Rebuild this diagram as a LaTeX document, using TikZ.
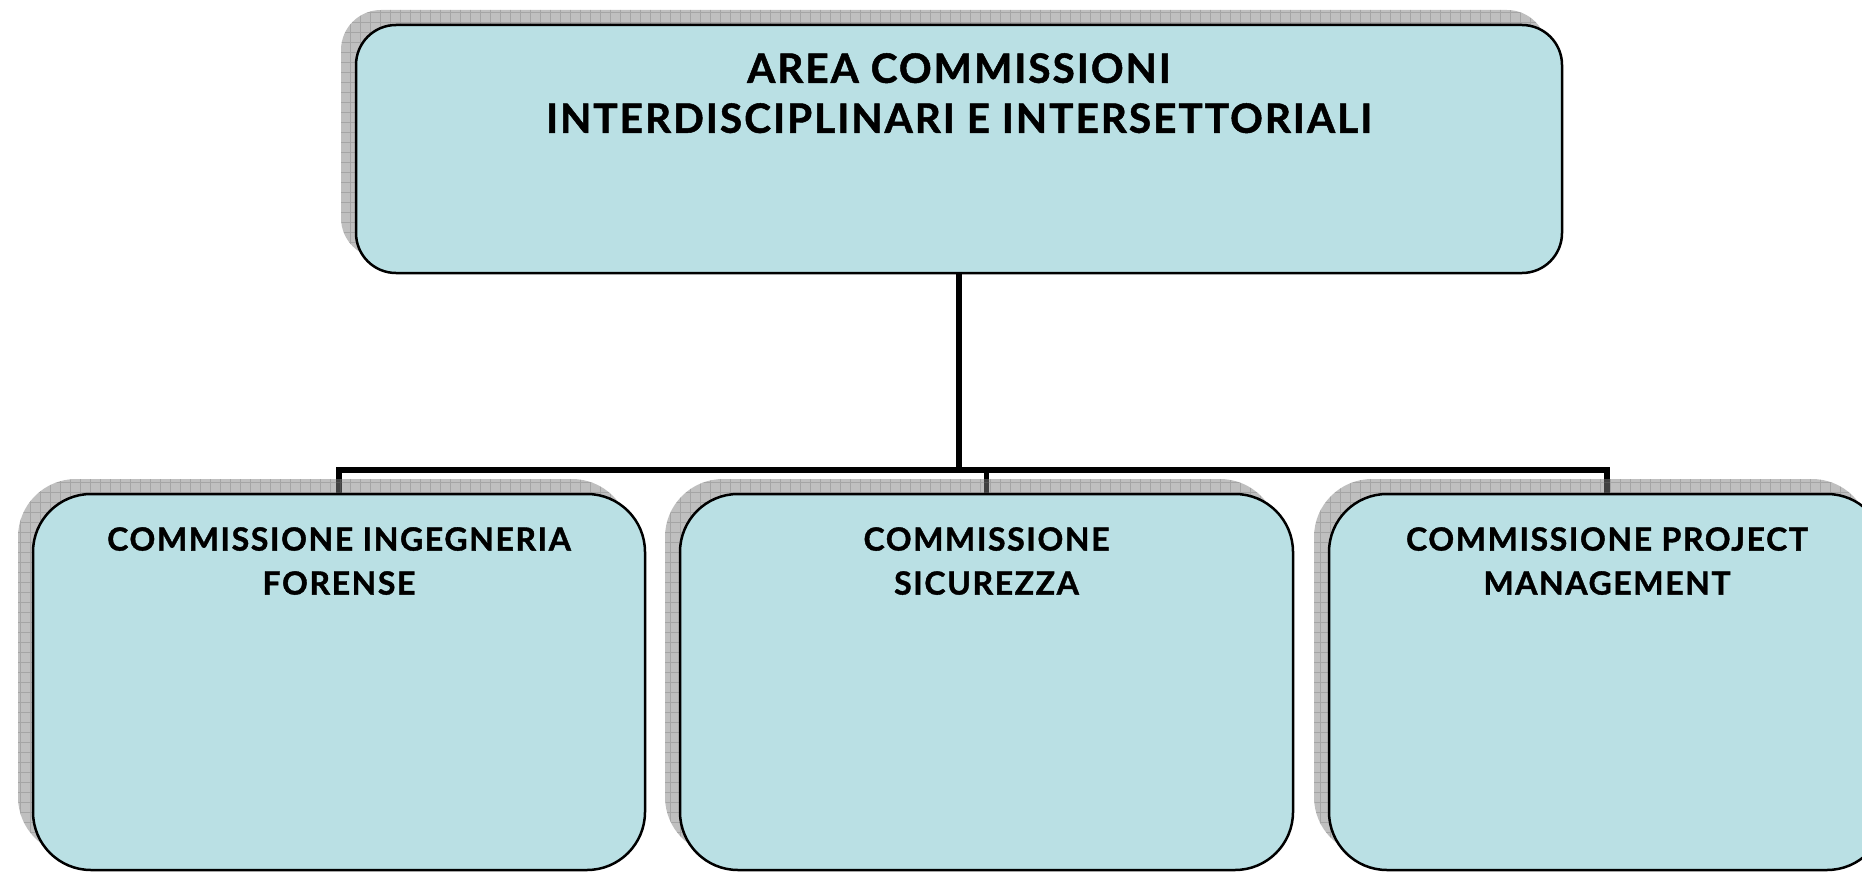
\documentclass[tikz,border=0pt]{standalone}
\usepackage{fontspec}
\setmainfont{Lato}[LetterSpace=5, BoldFeatures={FakeBold=1.2}]
\usetikzlibrary{patterns.meta,shadows}
\definecolor{boxfill}{RGB}{186,224,228}
\pgfdeclarelayer{lines}
\pgfsetlayers{lines,main}
\tikzset{
  card/.style={draw=black, line width=2.5pt, fill=boxfill, rounded corners=#1,
    inner sep=0pt, outer sep=0pt, shape=rectangle,
    drop shadow={shadow xshift=-15pt, shadow yshift=15pt, fill=gray, opacity=0.5},
    drop shadow={shadow xshift=-15pt, shadow yshift=15pt, fill=none,
      pattern={Hatch[distance=10pt, line width=0.6pt]}, pattern color=black!55, opacity=0.35}},
  conn/.style={draw=black, line width=5.5pt, line join=miter},
  toptext/.style={anchor=north, align=center, inner sep=0pt, font=\bfseries\fontsize{40.5}{50}\selectfont},
  subtext/.style={anchor=north, align=center, inner sep=0pt, font=\bfseries\fontsize{32}{44}\selectfont}
}
\begin{document}
\begin{tikzpicture}[x=1pt, y=-1pt]
  \useasboundingbox (0,0) rectangle (1862,872);
  \clip (0,0) rectangle (1862,872);
  % boxes
  \node[card=40pt, minimum width=1206pt, minimum height=248pt] (top) at (959,149) {};
  \node[card=58pt, minimum width=612pt, minimum height=376pt] (b1) at (339,682) {};
  \node[card=58pt, minimum width=613pt, minimum height=376pt] (b2) at (986.5,682) {};
  \node[card=58pt, minimum width=556pt, minimum height=376pt] (b3) at (1607,682) {};
  % texts
  \node[toptext] (t0) at ([yshift=-28pt]top.north) {AREA COMMISSIONI\\INTERDISCIPLINARI E INTERSETTORIALI};
  \node[subtext] (t1) at ([yshift=-33pt]b1.north) {COMMISSIONE INGEGNERIA\\FORENSE};
  \node[subtext] (t2) at ([yshift=-33pt]b2.north) {COMMISSIONE\\SICUREZZA};
  \node[subtext] (t3) at ([yshift=-33pt]b3.north) {COMMISSIONE PROJECT\\MANAGEMENT};
  % connectors
  \begin{pgfonlayer}{lines}
    \coordinate (bus) at (959,470);
    \draw[conn] (top.south) -- (top.south |- bus);
    \draw[conn] (b1.north) -- (b1.north |- bus) -- (b3.north |- bus) -- (b3.north);
    \draw[conn] (b2.north) -- (b2.north |- bus);
  \end{pgfonlayer}
\end{tikzpicture}
\end{document}
